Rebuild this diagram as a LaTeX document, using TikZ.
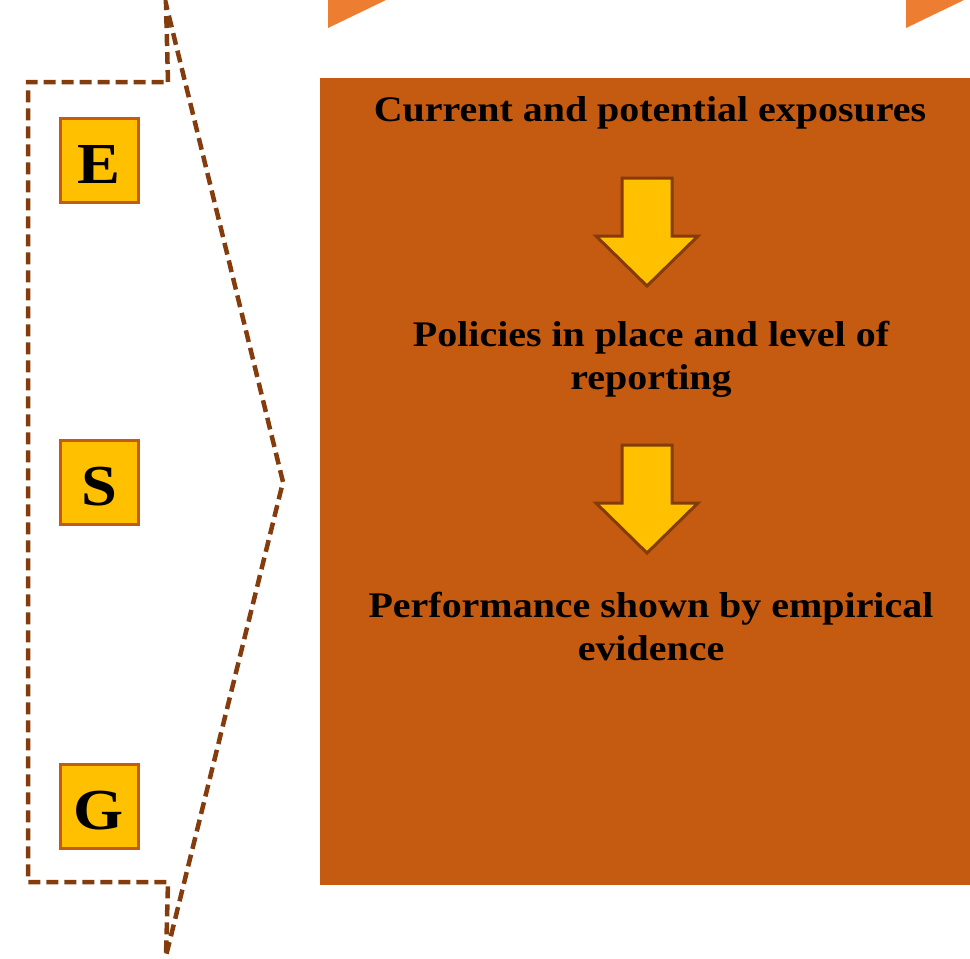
\documentclass[tikz,border=0pt]{standalone}
\usepackage{fontspec}
\setmainfont[FakeStretch=1.11]{Liberation Serif}
\begin{document}
\begin{tikzpicture}[x=1pt,y=-1pt,
  outline/.style={draw=darkrust,line width=4.5pt,dash pattern=on 12pt off 6pt},
  letterbox/.style={fill=gold,draw=rust,line width=3pt,minimum width=78pt,minimum height=84pt,text height=46pt,text depth=0pt,font=\bfseries\fontsize{58}{58}\selectfont},
  label/.style={align=center,font=\bfseries\fontsize{36}{43}\selectfont},
  downarrow/.style={fill=gold,draw=darkrust,line width=3pt,line join=miter}]
\definecolor{gold}{HTML}{FFC000}
\definecolor{rust}{HTML}{C55A11}
\definecolor{darkrust}{HTML}{843C0C}
\definecolor{tangerine}{HTML}{ED7D31}
\useasboundingbox (0,0) rectangle (970,959);
% corner triangles along the top edge
\fill[tangerine] (328,0) -- (386,0) -- (328,28) -- cycle;
\fill[tangerine] (906,0) -- (964,0) -- (906,28) -- cycle;
% dashed chevron frame
\coordinate (ttip) at (166,4);
\coordinate (mtip) at (283,482);
\coordinate (btip) at (166,956);
\draw[outline,line join=miter] (168,82) -- (ttip) -- (mtip) -- (btip) -- (168,882) -- (28,882) -- (28,82) -- cycle;
% letter boxes
\node[letterbox] (E) at (99,160) {E};
\node[letterbox] (S) at (99,482) {S};
\node[letterbox] (G) at (99,806) {G};
% main panel
\fill[rust] (320,78) rectangle (970,885);
\node[label] (t1) at (650,113) {Current and potential exposures};
\node[label] (t2) at (651,359) {Policies in place and level of\\reporting};
\node[label] (t3) at (651,626) {Performance shown by empirical\\evidence};
% arrows between the stages
\draw[downarrow] (622,178) -- (672,178) -- (672,236) -- (698,236) -- (647,286) -- (596,236) -- (622,236) -- cycle;
\draw[downarrow] (622,445) -- (672,445) -- (672,503) -- (698,503) -- (647,553) -- (596,503) -- (622,503) -- cycle;
\end{tikzpicture}
\end{document}
